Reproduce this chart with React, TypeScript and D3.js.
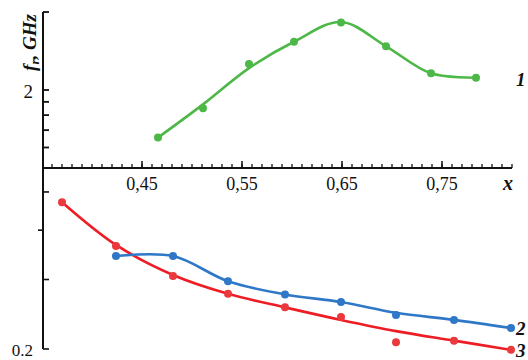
import React from "react";
import * as d3 from "d3";

// Upper panel: series 1 (f_r, GHz)
const greenX = [0.466, 0.511, 0.557, 0.602, 0.649, 0.694, 0.739, 0.784];
const greenDots = [1.31, 1.7, 2.52, 3.07, 3.64, 2.95, 2.32, 2.23];
const greenFit = [1.31, 1.76, 2.43, 3.07, 3.66, 2.95, 2.32, 2.23];

// Lower panel: series 2 (blue) and 3 (red)
const redX = [0.37, 0.424, 0.481, 0.536, 0.593, 0.649, 0.704, 0.762, 0.819];
const redDots = [0.471, 0.365, 0.306, 0.276, 0.255, 0.241, 0.208, 0.21, 0.199];
const redFit = [0.471, 0.367, 0.308, 0.276, 0.255, 0.237, 0.222, 0.21, 0.199];
const blueX = [0.424, 0.481, 0.536, 0.593, 0.649, 0.704, 0.762, 0.819];
const blueDots = [0.344, 0.344, 0.297, 0.275, 0.263, 0.244, 0.237, 0.226];
const blueFit = [0.344, 0.344, 0.297, 0.275, 0.263, 0.247, 0.237, 0.226];

const xMajor = [0.45, 0.55, 0.65, 0.75];
const xMajorLabels = ["0,45", "0,55", "0,65", "0,75"];
const upperTicks = [1.2, 1.4, 1.6, 1.8, 2, 4];
const lowerTicks = [0.3, 0.4, 0.5, 0.2];

const W = 528;
const H = 360;
const GREEN = "#4db848";
const BLUE = "#2f78c8";
const RED = "#ee1d25";
const FONT = "'Liberation Serif', 'Times New Roman', 'DejaVu Serif', serif";

export default function App() {
  const x = d3.scaleLinear().domain([0.35, 0.82]).range([42, 512]);
  const yU = d3.scaleLog().domain([1, 4]).range([168, 12]);
  const yL = d3.scaleLog().domain([0.2, 0.575]).range([349, 168]);
  const axisX = x(0.351);

  const mk = (xs: number[], ys: number[], yScale: any) =>
    d3
      .line<number>()
      .x((_, i) => x(xs[i]))
      .y((d) => yScale(d))
      .curve(d3.curveCatmullRom.alpha(0.5))(ys) || "";

  const minor: number[] = d3.range(36, 83).map((v) => v / 100);
  const txt = { fontFamily: FONT } as React.CSSProperties;

  return (
    <svg
      width={W}
      height={H}
      style={{ position: "absolute", left: 0, top: 0, background: "#fff", fontFamily: FONT }}
    >
      {/* y axis */}
      <line x1={axisX} x2={axisX} y1={yU(4)} y2={yL(0.2)} stroke="#111" strokeWidth={2} />
      {upperTicks.map((t) => (
        <line key={"u" + t} x1={axisX} x2={axisX + 6} y1={yU(t)} y2={yU(t)} stroke="#111" strokeWidth={1.8} />
      ))}
      {lowerTicks.map((t) => (
        <line
          key={"l" + t}
          x1={t === 0.4 ? axisX - 5 : axisX}
          x2={t === 0.4 ? axisX : axisX + 6}
          y1={yL(t)}
          y2={yL(t)}
          stroke="#111"
          strokeWidth={1.6}
        />
      ))}
      <text style={txt} x={33} y={yU(2) + 8} fontSize={19} textAnchor="end" fill="#111">2</text>
      <text style={txt} x={33} y={yL(0.2) + 7} fontSize={17} textAnchor="end" fill="#111">0.2</text>
      <text
        style={txt}
        transform={`translate(36,${yU(3.05)}) rotate(-90)`}
        fontSize={19}
        fontWeight="bold"
        fontStyle="italic"
        textAnchor="middle"
        fill="#111"
      >
        f<tspan fontSize={13} dy={3}>r</tspan>
        <tspan dy={-3}>, GHz</tspan>
      </text>

      {/* x axis */}
      <line x1={axisX - 1} x2={x(0.82)} y1={yU(1)} y2={yU(1)} stroke="#111" strokeWidth={2} />
      {minor.map((t) => (
        <line key={"m" + t} x1={x(t)} x2={x(t)} y1={yU(1)} y2={yU(1) - 4} stroke="#111" strokeWidth={1.3} />
      ))}
      {xMajor.map((t, i) => (
        <g key={"M" + t}>
          <line x1={x(t)} x2={x(t)} y1={yU(1)} y2={yU(1) - 7} stroke="#111" strokeWidth={1.5} />
          <text style={txt} x={x(t)} y={yU(1) + 22} fontSize={18} textAnchor="middle" fill="#111">
            {xMajorLabels[i]}
          </text>
        </g>
      ))}
      <text style={txt} x={508} y={yU(1) + 22} fontSize={20} fontWeight="bold" fontStyle="italic" textAnchor="middle" fill="#111">x</text>

      {/* series 1 */}
      <path d={mk(greenX, greenFit, yU)} fill="none" stroke={GREEN} strokeWidth={2.6} />
      {greenX.map((v, i) => (
        <circle key={"g" + i} cx={x(v)} cy={yU(greenDots[i])} r={4} fill={GREEN} />
      ))}

      {/* series 3 */}
      <path d={mk(redX, redFit, yL)} fill="none" stroke={RED} strokeWidth={2.6} />
      {redX.map((v, i) => (
        <circle key={"r" + i} cx={x(v)} cy={yL(redDots[i])} r={4} fill="#ea3a3e" />
      ))}

      {/* series 2 */}
      <path d={mk(blueX, blueFit, yL)} fill="none" stroke={BLUE} strokeWidth={2.6} />
      {blueX.map((v, i) => (
        <circle key={"b" + i} cx={x(v)} cy={yL(blueDots[i])} r={4} fill={BLUE} />
      ))}

      {/* series labels */}
      <text style={txt} x={516} y={yU(greenDots[7]) + 8} fontSize={19} fontWeight="bold" fontStyle="italic" fill="#111">1</text>
      <text style={txt} x={516} y={yL(blueDots[7]) + 7} fontSize={19} fontWeight="bold" fontStyle="italic" fill="#111">2</text>
      <text style={txt} x={516} y={yL(redDots[8]) + 7} fontSize={19} fontWeight="bold" fontStyle="italic" fill="#111">3</text>
    </svg>
  );
}
